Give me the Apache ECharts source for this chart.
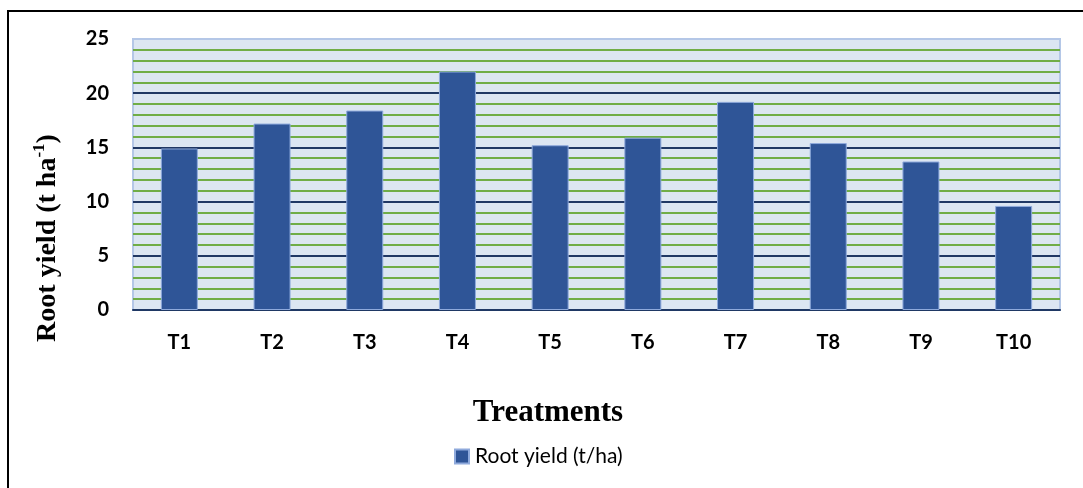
<!DOCTYPE html>
<html>
<head>
<meta charset="utf-8">
<script src="https://cdn.jsdelivr.net/npm/echarts@6/dist/echarts.min.js"></script>
<style>
  html, body { margin: 0; padding: 0; background: #fff; }
  #chart { width: 1083px; height: 488px; }
</style>
</head>
<body>
<div id="chart"></div>
<script>
const categories = ['T1', 'T2', 'T3', 'T4', 'T5', 'T6', 'T7', 'T8', 'T9', 'T10'];
const rootYield = [14.9, 17.2, 18.4, 22.0, 15.2, 15.9, 19.2, 15.4, 13.7, 9.6];
const seriesName = 'Root yield (t/ha)';
const xTitle = 'Treatments';

const chart = echarts.init(document.getElementById('chart'));

const titleFont = 'Liberation Serif';

const option = {
  animation: false,
  grid: {
    left: 133,
    right: 23,
    top: 39,
    bottom: 178,
    show: true,
    backgroundColor: '#dce6f2',
    borderColor: '#b4c7e7',
    borderWidth: 2
  },
  legend: {
    left: 449,
    top: 441,
    icon: 'rect',
    itemWidth: 14,
    itemHeight: 14,
    textStyle: { fontFamily: 'Lato', fontSize: 21, color: '#000', padding: [0, 0, 0, 1] },
    data: [seriesName]
  },
  xAxis: {
    type: 'category',
    data: categories,
    axisLine: { lineStyle: { color: '#1f3864', width: 2 } },
    axisTick: { show: false },
    axisLabel: { margin: 23, fontFamily: 'Lato', fontWeight: 'bold', fontSize: 20, color: '#000' }
  },
  yAxis: {
    type: 'value',
    min: 0,
    max: 25,
    interval: 5,
    axisLine: { show: false },
    axisTick: { show: false },
    axisLabel: { margin: 24, fontFamily: 'Lato', fontWeight: 'bold', fontSize: 20, color: '#000' },
    splitLine: { showMaxLine: false, lineStyle: { color: '#203864', width: 2 } },
    minorTick: { show: false, splitNumber: 5 },
    minorSplitLine: { show: true, lineStyle: { color: '#70ad47', width: 2 } }
  },
  series: [
    {
      name: seriesName,
      type: 'bar',
      data: rootYield,
      barWidth: 37,
      itemStyle: { color: '#2f5597', borderColor: '#8faadc', borderWidth: 1 }
    }
  ],
  graphic: [
    {
      type: 'rect',
      shape: { x: 8, y: 11, width: 1200, height: 600 },
      style: { fill: 'none', stroke: '#000', lineWidth: 2 },
      silent: true
    },
    {
      type: 'text',
      x: 548,
      y: 413,
      style: {
        text: xTitle,
        fontFamily: titleFont,
        fontWeight: 'bold',
        fontSize: 31,
        fill: '#000',
        align: 'center',
        verticalAlign: 'middle'
      }
    },
    {
      type: 'text',
      x: 48,
      y: 238,
      rotation: Math.PI / 2,
      style: {
        text: '{a|Root yield (t ha}{s|-1}{a|)}',
        align: 'center',
        verticalAlign: 'middle',
        rich: {
          a: { fontFamily: titleFont, fontWeight: 'bold', fontSize: 28, fill: '#000', lineHeight: 34 },
          s: { fontFamily: titleFont, fontWeight: 'bold', fontSize: 17, fill: '#000', lineHeight: 34, verticalAlign: 'top', padding: [0, 0, 16, 0] }
        }
      }
    }
  ]
};

chart.setOption(option);
</script>
</body>
</html>
